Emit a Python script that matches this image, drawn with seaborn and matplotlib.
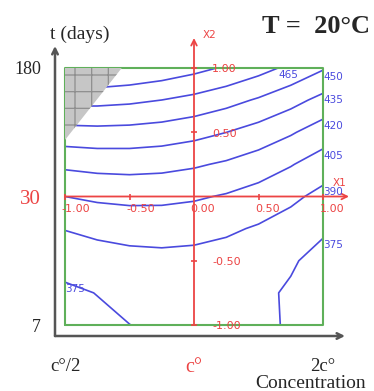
import matplotlib
matplotlib.use('Agg')
import matplotlib.pyplot as plt
import seaborn as sns

# coded levels of the two factors (X1 = concentration, X2 = storage time)
x1_coded = [-1.0, -0.75, -0.5, -0.25, 0.0, 0.25, 0.5, 0.75, 1.0]
x2_coded = [-1.0, -0.75, -0.5, -0.25, 0.0, 0.25, 0.5, 0.75, 1.0]

# response, one row per X2 level (bottom -> top)
response = [
    [368.9, 372.2, 374.9, 377.0, 378.5, 379.0, 377.5, 373.8, 369.0],
    [372.6, 375.3, 378.3, 379.4, 379.4, 379.5, 377.5, 373.5, 367.7],
    [379.8, 383.2, 385.3, 386.1, 385.6, 383.8, 380.8, 376.4, 370.8],
    [390.6, 393.7, 395.4, 395.8, 394.7, 392.3, 388.5, 383.4, 376.8],
    [405.0, 407.6, 408.8, 408.5, 406.8, 403.7, 399.2, 393.2, 385.8],
    [423.0, 424.8, 425.3, 424.3, 421.8, 418.0, 412.7, 405.9, 397.8],
    [444.5, 445.4, 444.9, 443.1, 439.8, 435.1, 429.0, 421.6, 412.7],
    [469.6, 469.4, 467.8, 464.9, 460.7, 455.1, 448.3, 440.1, 430.6],
    [498.3, 496.7, 493.8, 489.8, 484.5, 478.1, 470.4, 461.5, 451.4],
]

levels = [375, 390, 405, 420, 435, 450, 465, 480]
labelled_levels = [375, 390, 405, 420, 435, 450, 465]

# corner outside the experimental domain
excluded_x1 = [-1.0, -0.56, -1.0]
excluded_x2 = [1.0, 1.0, 0.44]

conc_ticks = [-1, 0, 1]
conc_labels = ['c°/2', 'c°', '2c°']
time_ticks = [-1, 0, 1]
time_labels = ['7', '30', '180']
coded_ticks = [-1.0, -0.5, 0.0, 0.5, 1.0]

RED = '#ec4444'
BLUE = '#4a4ade'
GREEN = '#5fb05a'
GREY = '#555555'

sns.set_style('white')
plt.rcParams['font.family'] = ['Liberation Serif', 'DejaVu Serif']
plt.rcParams['hatch.linewidth'] = 0.9

W, H = 374, 391
fig = plt.figure(figsize=(W / 100, H / 100), dpi=100)

# pixel layout of the reference: X1=0 at x=194, 1 unit = 129 px; X2=0 at y=196.5, 1 unit = 128.5 px
px_left, px_right, px_top, px_bottom = 55, 352, 36, 336
cx, sx, cy, sy = 194, 129, 196.5, 128.5
ax = fig.add_axes([px_left / W, 1 - px_bottom / H,
                   (px_right - px_left) / W, (px_bottom - px_top) / H])
ax.set_xlim((px_left - cx) / sx, (px_right - cx) / sx)
ax.set_ylim((cy - px_bottom) / sy, (cy - px_top) / sy)
x_lo, x_hi = ax.get_xlim()
y_lo, y_hi = ax.get_ylim()
for s in ax.spines.values():
    s.set_visible(False)

# outer (natural units) axes with arrow heads
ax.annotate('', xy=(x_lo, (cy - 46) / sy), xytext=(x_lo, y_lo),
            arrowprops=dict(arrowstyle='->', color=GREY, lw=1.8, shrinkA=0, shrinkB=0),
            annotation_clip=False)
ax.annotate('', xy=((345 - cx) / sx, y_lo), xytext=(x_lo, y_lo),
            arrowprops=dict(arrowstyle='->', color=GREY, lw=1.8, shrinkA=0, shrinkB=0),
            annotation_clip=False)

ax.set_xticks(conc_ticks, conc_labels)
ax.set_yticks(time_ticks, time_labels)
ax.tick_params(axis='x', direction='out', length=5, width=1.5, color=GREY, pad=11, labelsize=13.5)
ax.tick_params(axis='y', direction='out', length=8, width=1.5, color=GREY, pad=2, labelsize=13)
for lab in ax.get_xticklabels():
    if lab.get_text() == 'c°':
        lab.set_color(RED)
        lab.set_fontsize(14.5)
for lab in ax.get_yticklabels():
    if lab.get_text() == '30':
        lab.set_color(RED)
        lab.set_fontsize(15)

# iso-response curves
cs = ax.contour(x1_coded, x2_coded, response, levels=levels, colors=BLUE,
                linewidths=1.2, zorder=2)

# experimental domain
ax.plot([-1, 1, 1, -1, -1], [-1, -1, 1, 1, -1], color=GREEN, lw=1.5, zorder=3)
ax.fill(excluded_x1, excluded_x2, facecolor='#c6c6c6', edgecolor='#8e8e8e',
        hatch='+', linewidth=0, zorder=3)

# coded axes X1 / X2
ax.annotate('', xy=((349 - cx) / sx, 0), xytext=(-1, 0),
            arrowprops=dict(arrowstyle='->', color=RED, lw=1.3, shrinkA=0, shrinkB=0),
            annotation_clip=False, zorder=4)
ax.annotate('', xy=(0, (cy - 38) / sy), xytext=(0, -1),
            arrowprops=dict(arrowstyle='->', color=RED, lw=1.3, shrinkA=0, shrinkB=0),
            annotation_clip=False, zorder=4)
others = [t for t in coded_ticks if t != 0]
ax.plot(others, [0] * len(others), ls='none', marker='|', ms=4, mew=1.2, color=RED, zorder=4)
ax.plot([0] * len(others), others, ls='none', marker='_', ms=4, mew=1.2, color=RED, zorder=4)

small = dict(family='DejaVu Sans', fontsize=8, color=RED, zorder=6)
for t in coded_ticks:
    ax.annotate(f'{t:.2f}', xy=(t, 0), xytext=(-2.5, -5.5), textcoords='offset points',
                ha='left', va='top', **small)
for t in coded_ticks:
    if t == 0:
        continue
    ax.annotate(f'{t:.2f}', xy=(0, t), xytext=(13, -1), textcoords='offset points',
                ha='left', va='center', **small)
ax.annotate('X2', xy=(0, (cy - 38) / sy), xytext=(6.5, 2.5), textcoords='offset points',
            ha='left', va='center', family='DejaVu Sans', fontsize=7.5, color=RED)
ax.annotate('X1', xy=((349 - cx) / sx, 0), xytext=(-6.5, 10), textcoords='offset points',
            ha='center', va='center', family='DejaVu Sans', fontsize=7.5, color=RED)

# level labels at the upper end of each curve
for level, path in zip(cs.levels, cs.get_paths()):
    if level not in labelled_levels or len(path.vertices) == 0:
        continue
    for poly in path.to_polygons(closed_only=False):
        end = poly[0] if poly[0][1] >= poly[-1][1] else poly[-1]
        ax.annotate(f'{level:.0f}', xy=(end[0], end[1]), xytext=(0, -1.5),
                    textcoords='offset points', ha='left', va='top',
                    family='DejaVu Sans', fontsize=7.5, color=BLUE, zorder=6)

fig.text(50 / W, 1 - 39 / H, 't (days)', fontsize=14, ha='left', va='baseline')
fig.text(311 / W, 1 - 388 / H, 'Concentration', fontsize=14, ha='center', va='baseline')
fig.text(316 / W, 1 - 33 / H, 'T =  20°C', fontsize=19, fontweight='bold',
         ha='center', va='baseline')

fig.savefig('out.png', dpi=100)
